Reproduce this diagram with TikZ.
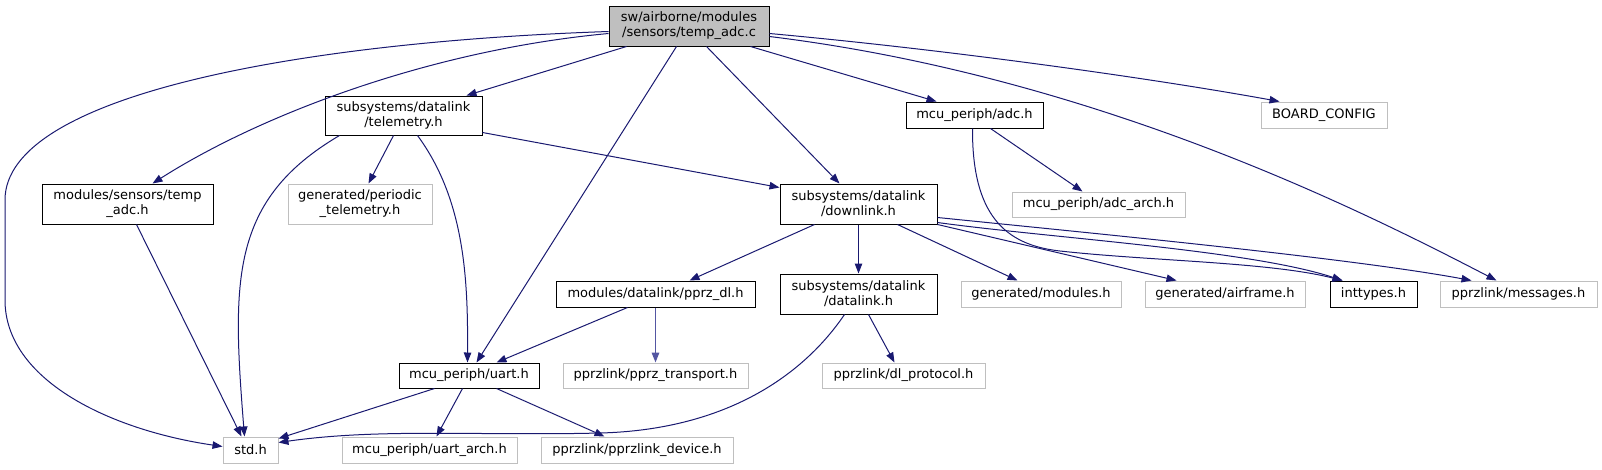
\documentclass[tikz,border=0pt]{standalone}
\usepackage{fontspec}
\setmainfont{DejaVu Sans}
\usetikzlibrary{arrows.meta,calc}
\definecolor{edgeblue}{HTML}{191970}
\definecolor{lgray}{HTML}{BFBFBF}
\definecolor{rootfill}{HTML}{BFBFBF}
\definecolor{lightedge}{RGB}{84,86,162}
\begin{document}
\begin{tikzpicture}[x=1pt,y=-1pt,
  box/.style={draw=black, line width=1pt, fill=white, inner sep=0pt, align=center,
              font=\fontsize{13}{15}\selectfont},
  gbox/.style={box, draw=lgray},
  rbox/.style={box, fill=rootfill},
  edge/.style={draw=edgeblue, line width=1pt, -{Triangle[length=10pt,width=7.5pt]}},
  ledge/.style={edge, draw=lightedge, line width=1.6pt},
]
\useasboundingbox (0,0) rectangle (1602,469);

% nodes
\node[rbox, minimum width=160pt, minimum height=40pt] (root) at (689,26) {sw/airborne/modules\\/sensors/temp\_adc.c};
\node[box, minimum width=157pt, minimum height=39pt] (tele) at (403.5,115.5) {subsystems/datalink\\/telemetry.h};
\node[box, minimum width=171pt, minimum height=40pt] (tadc) at (127.5,204) {modules/sensors/temp\\\_adc.h};
\node[gbox, minimum width=144pt, minimum height=40pt] (pert) at (360,204) {generated/periodic\\\_telemetry.h};
\node[box, minimum width=157pt, minimum height=40pt] (down) at (858.5,204) {subsystems/datalink\\/downlink.h};
\node[box, minimum width=137pt, minimum height=26pt] (adc) at (974.5,115) {mcu\_periph/adc.h};
\node[gbox, minimum width=173pt, minimum height=25pt] (adcarch) at (1098.5,204.5) {mcu\_periph/adc\_arch.h};
\node[gbox, minimum width=126pt, minimum height=26pt] (board) at (1324,115) {BOARD\_CONFIG};
\node[box, minimum width=140pt, minimum height=25pt] (uart) at (469,375.5) {mcu\_periph/uart.h};
\node[gbox, minimum width=55pt, minimum height=26pt] (std) at (250.5,450) {std.h};
\node[gbox, minimum width=175pt, minimum height=26pt] (uarch) at (429.5,450) {mcu\_periph/uart\_arch.h};
\node[gbox, minimum width=192pt, minimum height=26pt] (pdev) at (637,450) {pprzlink/pprzlink\_device.h};
\node[box, minimum width=199pt, minimum height=26pt] (pdl) at (655.5,294) {modules/datalink/pprz\_dl.h};
\node[box, minimum width=157pt, minimum height=40pt] (dlink) at (858.5,294) {subsystems/datalink\\/datalink.h};
\node[gbox, minimum width=185pt, minimum height=25pt] (ptrans) at (655.5,375.5) {pprzlink/pprz\_transport.h};
\node[gbox, minimum width=163pt, minimum height=25pt] (dlproto) at (903.5,375.5) {pprzlink/dl\_protocol.h};
\node[gbox, minimum width=160pt, minimum height=26pt] (gmod) at (1041,294) {generated/modules.h};
\node[gbox, minimum width=160pt, minimum height=26pt] (gair) at (1225,294) {generated/airframe.h};
\node[box, minimum width=87pt, minimum height=26pt] (intt) at (1373.5,294) {inttypes.h};
\node[gbox, minimum width=157pt, minimum height=26pt] (msgs) at (1518.5,294) {pprzlink/messages.h};

% edges from root
\draw[edge] ($(root.north west)+(0,26)$) .. controls (300,42) and (5,95) .. (5,200)
  -- (5,300) .. controls (5,380) and (110,430) .. ($(std.north west)+(0,10)$);
\draw[edge] ($(root.north west)+(0,28)$) .. controls (430,50) and (260,115) .. ($(tadc.north west)+(111,0)$);
\draw[edge] ($(root.south west)+(18,0)$) -- ($(tele.north west)+(142,0)$);
\draw[edge] ($(root.south west)+(68,0)$) -- ($(uart.north west)+(78,0)$);
\draw[edge] ($(root.south west)+(98,0)$) -- ($(down.north west)+(60,0)$);
\draw[edge] ($(root.south west)+(142,0)$) -- ($(adc.north west)+(31,0)$);
\draw[edge] ($(root.north east)+(0,28)$) .. controls (950,50) and (1150,78) .. ($(board.north west)+(19,0)$);
\draw[edge] ($(root.north east)+(0,31)$) .. controls (1100,77) and (1370,215) .. ($(msgs.north west)+(57,0)$);

% telemetry
\draw[edge] ($(tele.south west)+(69,0)$) -- ($(pert.north west)+(81,0)$);
\draw[edge] ($(tele.south west)+(15,0)$) .. controls (230,200) and (232,280) .. ($(std.north west)+(22,0)$);
\draw[edge] ($(tele.south west)+(93,0)$) .. controls (465,200) and (468,280) .. ($(uart.north west)+(69,0)$);
\draw[edge] ($(tele.south east)+(0,-3)$) -- ($(down.north west)+(0,4)$);

% temp_adc.h
\draw[edge] ($(tadc.south west)+(95,0)$) -- ($(std.north west)+(19,0)$);

% adc.h
\draw[edge] ($(adc.south west)+(85,0)$) -- ($(adcarch.north west)+(71,0)$);
\draw[edge] ($(adc.south west)+(67,0)$) .. controls (972,215) and (1005,245) .. (1060,251)
  .. controls (1150,261) and (1270,262) .. ($(intt.north west)+(13,0)$);

% downlink
\draw[edge] ($(down.south west)+(35,0)$) -- ($(pdl.north west)+(134,0)$);
\draw[edge] (down.south) -- (dlink.north);
\draw[edge] ($(down.south west)+(118,0)$) -- ($(gmod.north west)+(57,0)$);
\draw[edge] ($(down.south east)+(0,-7)$) .. controls (1100,234) and (1350,258) .. ($(msgs.north west)+(32,0)$);
\draw[edge] ($(down.south east)+(0,-2)$) .. controls (1050,238) and (1250,250) .. ($(intt.north west)+(13,0)$);
\draw[edge] (down.south east) -- ($(gair.north west)+(32,0)$);

% pprz_dl
\draw[edge] ($(pdl.south west)+(72,0)$) -- ($(uart.north west)+(98,0)$);
\draw[ledge] (pdl.south) -- (ptrans.north);

% datalink.h
\draw[edge] ($(dlink.south west)+(65,0)$) .. controls (800,380) and (720,430) .. (600,433)
  .. controls (480,436) and (380,428) .. ($(std.north east)+(0,6)$);
\draw[edge] ($(dlink.south west)+(89,0)$) -- ($(dlproto.north west)+(73,0)$);

% uart.h
\draw[edge] ($(uart.south west)+(36,0)$) -- ($(std.north east)+(0,2)$);
\draw[edge] ($(uart.south west)+(64,0)$) -- ($(uarch.north west)+(95,0)$);
\draw[edge] ($(uart.south west)+(98,0)$) -- ($(pdev.north west)+(64,0)$);
\end{tikzpicture}
\end{document}
